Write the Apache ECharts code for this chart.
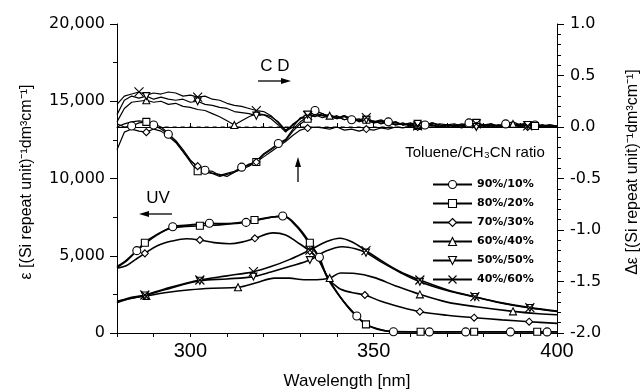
<!DOCTYPE html>
<html>
<head>
<meta charset="utf-8">
<script src="https://cdn.jsdelivr.net/npm/echarts@6/dist/echarts.min.js"></script>
<style>
  html, body { margin: 0; padding: 0; background: #fff; }
  #chart { width: 643px; height: 392px; }
</style>
</head>
<body>
<div id="chart"></div>
<script>
// Toluene / CH3CN solvent ratios
const seriesNames = ['90%/10%', '80%/20%', '70%/30%', '60%/40%', '50%/50%', '40%/60%'];
const leftTickLabels = [0, 5000, 10000, 15000, 20000];
const rightTickLabels = [-2.0, -1.5, -1.0, -0.5, 0.0, 0.5, 1.0];
const wavelengthLabels = [300, 350, 400];

// UV absorption, epsilon vs wavelength [nm]
const uv90 = [[280,4300],[282,4600],[285.4,5330],[288,5850],[291,6350],[295.2,6880],[300,7000],[305.2,7100],[310,7080],[315.2,7160],[320,7400],[325.2,7570],[329,6880],[332,5950],[335.2,4900],[337.2,3650],[340.8,2350],[345.4,1100],[348,560],[351,280],[355.4,85],[365.2,70],[375.1,70],[387.3,70],[397.3,70],[400,70]];
const uv80 = [[280,4250],[283,4750],[287.6,5845],[291,6400],[295,6800],[302.6,6945],[308,7000],[312,7100],[317.5,7310],[322,7500],[325.5,7550],[329,6950],[332.6,5845],[335,4850],[337.5,3600],[341,2300],[344,1400],[347.9,560],[351,250],[355,90],[362.8,80],[377.4,80],[394.6,80],[400,80]];
const uv70 = [[280,4200],[282.5,4350],[285,4750],[287.6,5155],[291,5650],[295,5950],[299,6100],[302.6,6020],[306.5,5850],[310.8,5780],[314,5880],[317.6,6130],[322.6,6480],[326,6350],[329,5900],[332.6,5300],[335,4700],[337.6,3550],[340.5,2900],[344,2620],[347.6,2460],[352,2050],[357,1700],[362.6,1380],[370,1150],[377.4,990],[385,850],[392.4,730],[400,620]];
const uv60 = [[280,2050],[284,2250],[288,2400],[293,2600],[300,2800],[306,2900],[313,2960],[318,3250],[323,3550],[327,3550],[331,3450],[334.5,3450],[338,3560],[341,3880],[345,3850],[350,3600],[356,3050],[362.6,2500],[370,2000],[378,1700],[388,1400],[395,1250],[400,1180]];
const uv50 = [[280,1950],[283,2200],[287.6,2430],[293,2800],[302.6,3380],[310,3500],[317.2,3650],[322,3950],[327,4300],[332.6,4720],[337,5300],[341.5,5580],[345,5450],[347.9,5200],[352,4600],[357,3950],[362.6,3320],[370,2750],[377.6,2330],[385,1930],[392.6,1620],[400,1400]];
const uv40 = [[280,2000],[283,2250],[287.6,2460],[293,2850],[302.6,3430],[310,3700],[317.2,3970],[322,4300],[327,4750],[332.6,5370],[337,5900],[340.8,6130],[344,5900],[347.9,5330],[352,4700],[357,4000],[362.6,3430],[370,2800],[377.6,2350],[385,1950],[392.6,1640],[400,1420]];

// CD spectra, delta epsilon on a 2 nm grid
const cdWavelengths = [
  280,282,284,286,288,290,292,294,296,298,
  300,302,304,306,308,310,312,314,316,318,
  320,322,324,326,328,330,332,334,336,338,
  340,342,344,346,348,350,352,354,356,358,
  360,362,364,366,368,370,372,374,376,378,
  380,382,384,386,388,390,392,394,396,398,
  400];
const cd90 = [
  0.03,0.0,0.01,0.04,0.05,0.02,-0.02,-0.07,-0.13,-0.22,
  -0.32,-0.39,-0.42,-0.43,-0.47,-0.45,-0.43,-0.39,-0.37,-0.33,
  -0.26,-0.21,-0.16,-0.12,-0.02,0.05,0.1,0.16,0.13,0.1,
  0.08,0.11,0.07,0.08,0.05,0.06,0.03,0.05,0.02,0.03,
  0.01,0.03,0.02,0.04,0.01,0.02,0.03,0.01,0.04,0.02,
  0.01,0.03,0.01,0.03,0.05,0.02,0.04,0.02,0.01,0.02,
  0.01];
const cd80 = [
  0.0,0.03,0.05,0.06,0.05,0.03,0.0,-0.06,-0.14,-0.24,
  -0.34,-0.43,-0.44,-0.45,-0.46,-0.48,-0.44,-0.4,-0.36,-0.34,
  -0.27,-0.22,-0.17,-0.13,-0.04,0.03,0.08,0.12,0.11,0.09,
  0.1,0.07,0.09,0.05,0.07,0.04,0.05,0.03,0.04,0.02,
  0.03,0.01,0.03,0.02,0.0,0.02,0.01,0.03,0.02,0.04,
  0.02,0.0,0.02,0.01,0.03,0.02,0.04,0.01,0.02,0.0,
  0.01];
const cd70 = [
  -0.22,-0.05,-0.02,-0.04,-0.05,-0.02,-0.04,-0.09,-0.15,-0.24,
  -0.33,-0.38,-0.42,-0.45,-0.48,-0.46,-0.44,-0.41,-0.38,-0.34,
  -0.29,-0.24,-0.19,-0.14,-0.08,-0.03,-0.01,0.0,-0.01,-0.02,
  0.0,-0.03,-0.02,-0.04,-0.02,-0.03,-0.01,-0.02,0.0,-0.01,
  0.01,0.0,0.02,0.01,0.0,0.02,0.01,0.0,0.02,0.01,
  0.0,0.02,0.01,0.0,0.01,0.02,0.0,0.01,0.0,0.01,
  0.0];
const cd60 = [
  0.05,0.18,0.24,0.25,0.26,0.24,0.25,0.22,0.23,0.2,
  0.19,0.17,0.16,0.13,0.1,0.06,0.02,0.06,0.1,0.13,
  0.12,0.1,0.05,-0.03,0.02,0.08,0.1,0.12,0.09,0.11,
  0.08,0.1,0.07,0.06,0.08,0.05,0.06,0.03,0.05,0.02,
  0.04,0.02,0.03,0.01,0.03,0.02,0.0,0.02,0.03,0.01,
  0.02,0.0,0.02,0.01,0.03,0.01,0.02,0.0,0.02,0.01,
  0.0];
const cd50 = [
  0.12,0.26,0.3,0.28,0.3,0.27,0.29,0.27,0.26,0.27,
  0.24,0.25,0.22,0.21,0.19,0.18,0.15,0.14,0.13,0.11,
  0.12,0.08,0.02,-0.05,0.03,0.08,0.12,0.1,0.13,0.09,
  0.11,0.07,0.09,0.06,0.07,0.04,0.06,0.04,0.02,0.04,
  0.01,0.03,0.02,0.04,0.02,0.0,0.02,0.01,0.03,0.0,
  0.02,0.03,0.01,0.03,0.02,0.0,0.02,0.03,0.01,0.02,
  0.01];
const cd40 = [
  0.22,0.3,0.32,0.34,0.31,0.33,0.32,0.34,0.33,0.3,
  0.31,0.29,0.3,0.27,0.26,0.23,0.21,0.2,0.18,0.16,
  0.15,0.11,0.04,-0.04,0.0,0.09,0.11,0.14,0.11,0.12,
  0.09,0.11,0.08,0.07,0.09,0.05,0.07,0.04,0.05,0.02,
  0.03,0.01,0.03,0.02,0.0,0.02,0.01,-0.01,0.02,0.03,
  0.01,0.02,0.0,0.02,0.01,0.03,0.01,0.02,0.0,0.01,
  0.0];
// zero reference for the CD traces
const cdBaseline = [[293, 0], [400, 0]];

// wavelengths carrying a plotted symbol
const uvMarks = [
  [285.4,295.2,305.2,315.2,325.2,335.2,345.4,355.4,365.2,375.1,387.3,397.3],
  [287.6,302.6,317.5,332.6,347.9,362.8,377.4,394.6],
  [287.6,302.6,317.6,332.6,347.6,362.6,377.4,392.4],
  [288,313,338,362.6,388],
  [287.6,302.6,317.2,332.6,347.9,362.6,377.6,392.6],
  [287.6,302.6,317.2,332.6,347.9,362.6,377.6,392.6]
];
const cdMarks = [
  [284,290,294,304,314,324,334,344,354,364,376,386,394],
  [288,302,318,332,348,362,378,394],
  [288,302,318,332,348,362,378,392],
  [288,312,338,362,388],
  [288,302,318,332,348,362,378,392],
  [286,302,318,332,348,362,378,392]
];

const symbols = [
  { symbol: 'circle', size: 8, rotate: 0 },
  { symbol: 'rect', size: 7, rotate: 0 },
  { symbol: 'diamond', size: 7, rotate: 0 },
  { symbol: 'triangle', size: 7, rotate: 0 },
  { symbol: 'triangle', size: 7, rotate: 180 },
  { symbol: 'path://M0,0L10,10M10,0L0,10', size: 9, rotate: 0 }
];

const uvSets = [uv90, uv80, uv70, uv60, uv50, uv40];
const cdSets = [cd90, cd80, cd70, cd60, cd50, cd40];

function withMarks(points, marks) {
  return points.map(p => marks.indexOf(p[0]) >= 0 ? p : { value: p, symbol: 'none' });
}

function lineSeries(name, idx, data, yAxisIndex, smooth, width) {
  const s = symbols[idx];
  return {
    type: 'line',
    name: name,
    xAxisIndex: 0,
    yAxisIndex: yAxisIndex,
    data: data,
    smooth: smooth,
    symbol: s.symbol,
    symbolSize: s.size,
    symbolRotate: s.rotate,
    showSymbol: true,
    showAllSymbol: true,
    lineStyle: { color: '#000', width: width },
    itemStyle: { color: '#fff', borderColor: '#000', borderWidth: 1.1 },
    emphasis: { disabled: true },
    z: 3
  };
}

const series = [];
series.push({
  type: 'line',
  name: 'baseline',
  xAxisIndex: 0,
  yAxisIndex: 1,
  data: cdBaseline,
  symbol: 'none',
  lineStyle: { color: '#000', width: 1, type: [4, 4] },
  z: 1
});
seriesNames.forEach((name, i) => {
  series.push(lineSeries(name, i, withMarks(uvSets[i], uvMarks[i]), 0, 0.35, 1.6));
});
seriesNames.forEach((name, i) => {
  const pts = cdWavelengths.map((w, k) => [w, cdSets[i][k]]);
  series.push(lineSeries(name, i, withMarks(pts, cdMarks[i]), 1, false, 1.2));
});

const tickFont = { fontFamily: 'DejaVu Sans', fontSize: 16, color: '#000' };

const chart = echarts.init(document.getElementById('chart'), null, { renderer: 'canvas' });
chart.setOption({
  animation: false,
  backgroundColor: '#fff',
  grid: { left: 117, right: 86, top: 24, bottom: 59 },
  xAxis: [
    {
      type: 'value', position: 'bottom', min: 280, max: 400, interval: 10,
      axisLine: { show: true, lineStyle: { color: '#000', width: 1 } },
      axisTick: { show: true, length: 4, lineStyle: { color: '#000' } },
      axisLabel: {
        margin: 8, fontFamily: 'Liberation Sans', fontSize: 20, color: '#000',
        formatter: v => wavelengthLabels.indexOf(v) >= 0 ? String(v) : ''
      },
      splitLine: { show: false }
    },
    {
      type: 'value', position: 'top', min: 280, max: 400, interval: 10,
      axisLine: { show: true, lineStyle: { color: '#000', width: 1 } },
      axisTick: { show: true, length: 4, lineStyle: { color: '#000' } },
      axisLabel: { show: false },
      splitLine: { show: false }
    }
  ],
  yAxis: [
    {
      type: 'value', position: 'left', min: 0, max: 20000, interval: 5000,
      axisLine: { show: true, lineStyle: { color: '#000', width: 1 } },
      axisTick: { show: true, length: 7, lineStyle: { color: '#000' } },
      minorTick: { show: true, splitNumber: 2, length: 4, lineStyle: { color: '#000' } },
      axisLabel: Object.assign({
        margin: 12,
        formatter: v => leftTickLabels.indexOf(v) >= 0 ? v.toLocaleString('en-US') : ''
      }, tickFont),
      splitLine: { show: false }
    },
    {
      type: 'value', position: 'right', min: -2, max: 1, interval: 0.5,
      axisLine: { show: true, lineStyle: { color: '#000', width: 1 } },
      axisTick: { show: true, length: 7, lineStyle: { color: '#000' } },
      minorTick: { show: true, splitNumber: 5, length: 4, lineStyle: { color: '#000' } },
      axisLabel: Object.assign({
        margin: 13,
        formatter: v => rightTickLabels.indexOf(v) >= 0 ? v.toFixed(1) : ''
      }, tickFont),
      splitLine: { show: false }
    }
  ],
  legend: {
    data: seriesNames,
    orient: 'vertical',
    left: 427,
    top: 174,
    itemWidth: 39,
    itemHeight: 10,
    itemGap: 8,
    itemStyle: { borderColor: '#000', borderWidth: 1.1 },
    textStyle: { fontFamily: 'DejaVu Sans', fontWeight: 'bold', fontSize: 11, color: '#000' },
    selectedMode: false
  },
  graphic: [
    { type: 'text', x: 27, y: 182, rotation: Math.PI / 2,
      style: { text: 'ε [(Si repeat unit)⁻¹dm³cm⁻¹]', font: '16px "Liberation Sans"', fill: '#000', textAlign: 'center', textVerticalAlign: 'middle' } },
    { type: 'text', x: 633, y: 172, rotation: Math.PI / 2,
      style: { text: 'Δε [(Si repeat unit)⁻¹dm³cm⁻¹]', font: '16px "Liberation Sans"', fill: '#000', textAlign: 'center', textVerticalAlign: 'middle' } },
    { type: 'text', x: 347, y: 381,
      style: { text: 'Wavelength [nm]', font: '17px "Liberation Sans"', fill: '#000', textAlign: 'center', textVerticalAlign: 'middle' } },
    { type: 'text', x: 475, y: 153,
      style: { text: 'Toluene/CH₃CN ratio', font: '15px "Liberation Sans"', fill: '#000', textAlign: 'center', textVerticalAlign: 'middle' } },
    { type: 'text', x: 275, y: 66,
      style: { text: 'C D', font: '17px "Liberation Sans"', fill: '#000', textAlign: 'center', textVerticalAlign: 'middle' } },
    { type: 'text', x: 158, y: 198,
      style: { text: 'UV', font: '17px "Liberation Sans"', fill: '#000', textAlign: 'center', textVerticalAlign: 'middle' } },
    // CD arrow (pointing right)
    { type: 'line', shape: { x1: 258, y1: 81, x2: 284, y2: 81 }, style: { stroke: '#000', lineWidth: 1.3 } },
    { type: 'polygon', shape: { points: [[291, 81], [281, 78], [281, 84]] }, style: { fill: '#000' } },
    // UV arrow (pointing left)
    { type: 'line', shape: { x1: 172, y1: 214, x2: 146, y2: 214 }, style: { stroke: '#000', lineWidth: 1.3 } },
    { type: 'polygon', shape: { points: [[139, 214], [149, 211], [149, 217]] }, style: { fill: '#000' } },
    // onset arrow (pointing up)
    { type: 'line', shape: { x1: 298, y1: 182, x2: 298, y2: 164 }, style: { stroke: '#000', lineWidth: 1.3 } },
    { type: 'polygon', shape: { points: [[298, 157], [295, 167], [301, 167]] }, style: { fill: '#000' } }
  ],
  series: series
});
</script>
</body>
</html>
